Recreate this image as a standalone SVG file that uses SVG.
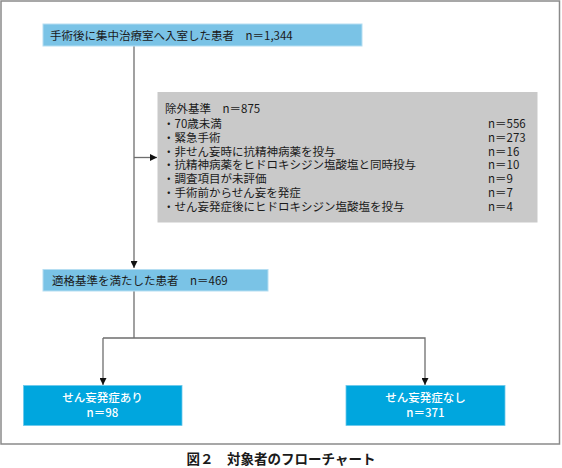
<svg xmlns="http://www.w3.org/2000/svg" width="562" height="468" viewBox="0 0 562 468">
<style>
text{font-family:"Noto Sans CJK JP","Noto Sans",sans-serif;font-size:11.5px;fill:#1a1a1a}
.lb{fill:#7ac3e6;stroke:#b5def2;stroke-width:1}
.gr{fill:#c9c9c9}
.db{fill:#00a6de;stroke:#6cc9ec;stroke-width:0.8}
.wt{fill:#ffffff;font-weight:500;text-anchor:middle}
.ln{stroke:#6e6e6e;stroke-width:1.3;fill:none}
.cap{font-weight:700;font-size:13.5px;text-anchor:middle}
</style>
<defs>
<marker id="ah" viewBox="0 0 10 10" refX="10" refY="5" markerWidth="7" markerHeight="7" markerUnits="userSpaceOnUse" orient="auto">
<path d="M0,0 L10,5 L0,10 z" fill="#111"/>
</marker>
</defs>
<rect x="1" y="1" width="558.5" height="443" fill="#fff" stroke="#8a8a8a" stroke-width="1.5"/>
<g id="connectors">
<line class="ln" x1="134" y1="46" x2="134" y2="268" marker-end="url(#ah)"/>
<line class="ln" x1="134" y1="157.5" x2="157" y2="157.5" marker-end="url(#ah)"/>
<line class="ln" x1="134" y1="291" x2="134" y2="338"/>
<polyline class="ln" points="103,338 425,338 425,385" marker-end="url(#ah)"/>
<line class="ln" x1="103" y1="338" x2="103" y2="385" marker-end="url(#ah)"/>
</g>
<g id="n1">
<rect class="lb" x="43" y="24" width="319" height="22"/>
<text x="50" y="39.5">手術後に集中治療室へ入室した患者　n＝1,344</text>
</g>
<g id="n2">
<rect class="gr" x="157.5" y="92" width="380" height="130.5"/>
<text x="165" y="113">除外基準　n＝875</text>
<text x="163" y="128">・70歳未満</text>
<text x="163" y="141.5">・緊急手術</text>
<text x="163" y="155.5">・非せん妄時に抗精神病薬を投与</text>
<text x="163" y="169">・抗精神病薬をヒドロキシジン塩酸塩と同時投与</text>
<text x="163" y="183">・調査項目が未評価</text>
<text x="163" y="196.5">・手術前からせん妄を発症</text>
<text x="163" y="210.5">・せん妄発症後にヒドロキシジン塩酸塩を投与</text>
<text x="488" y="128">n＝556</text>
<text x="488" y="141.5">n＝273</text>
<text x="488" y="155.5">n＝16</text>
<text x="488" y="169">n＝10</text>
<text x="488" y="183">n＝9</text>
<text x="488" y="196.5">n＝7</text>
<text x="488" y="210.5">n＝4</text>
</g>
<g id="n3">
<rect class="lb" x="43" y="269.5" width="225" height="21.5"/>
<text x="52" y="284.5">適格基準を満たした患者　n＝469</text>
</g>
<g id="n4">
<rect class="db" x="23.5" y="385.5" width="158.5" height="40"/>
<text class="wt" x="102.5" y="402">せん妄発症あり</text>
<text class="wt" x="102.5" y="417">n＝98</text>
</g>
<g id="n5">
<rect class="db" x="346" y="385.5" width="159" height="40"/>
<text class="wt" x="425.5" y="402">せん妄発症なし</text>
<text class="wt" x="425.5" y="417">n＝371</text>
</g>
<text class="cap" x="281" y="463.5">図２　対象者のフローチャート</text>
</svg>
